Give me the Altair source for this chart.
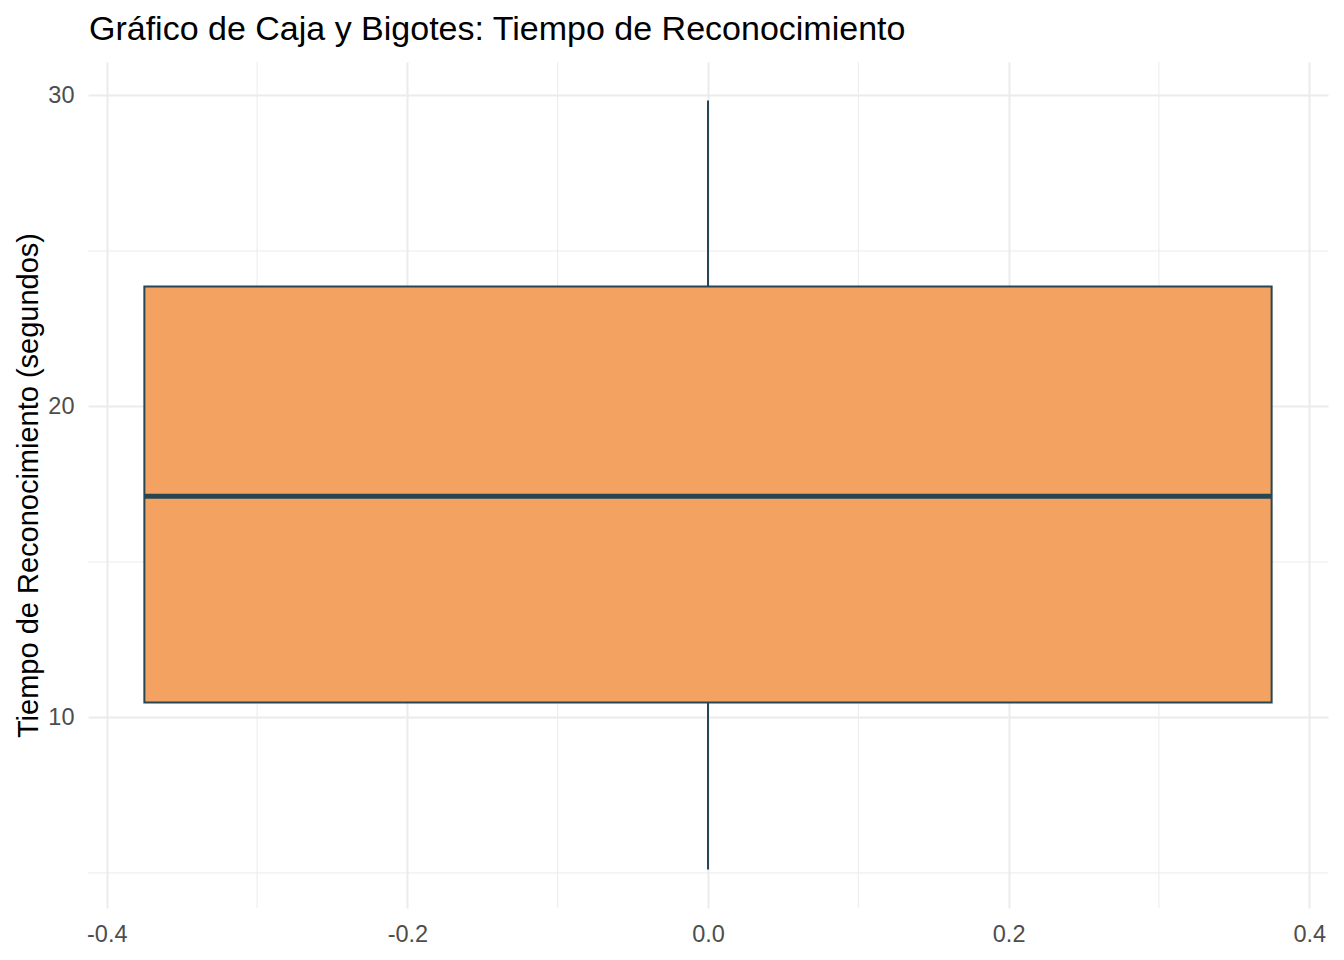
import altair as alt
import pandas as pd

# Summary statistics
lower_whisker = [5.11]
q1 = [10.48]
median = [17.11]
q3 = [23.86]
upper_whisker = [29.84]
box_left = [-0.375]
box_right = [0.375]
box_center = [0.0]

x_major = [-0.4, -0.2, 0.0, 0.2, 0.4]
x_minor = [-0.3, -0.1, 0.1, 0.3]
y_major = [10, 20, 30]
y_minor = [5, 15, 25]

FILL = "#F4A261"
LINE = "#264653"
GRID = "#EBEBEB"
FONT = "Liberation Sans"

box_df = pd.DataFrame({
    "lo": lower_whisker, "q1": q1, "med": median, "q3": q3, "hi": upper_whisker,
    "xl": box_left, "xr": box_right, "xc": box_center,
})

xs = alt.Scale(domain=[-0.4125, 0.4125], nice=False, zero=False)
ys = alt.Scale(domain=[3.873, 31.077], nice=False, zero=False)

xaxis = alt.Axis(values=x_major, format=".1f", labelExpr="replace(datum.label, '\u2212', '-')",
                 title=None, grid=True, gridColor=GRID,
                 gridWidth=2, domain=False, ticks=False, tickSize=0, labelPadding=14,
                 labelFontSize=23.5, labelColor="#4D4D4D", labelFont=FONT)
yaxis = alt.Axis(values=y_major, format="d", title="Tiempo de Reconocimiento (segundos)",
                 grid=True, gridColor=GRID, gridWidth=2, domain=False, ticks=False,
                 tickSize=0, labelPadding=14, labelFontSize=23.5, labelColor="#4D4D4D",
                 labelFont=FONT, titleFont=FONT, titleFontSize=29, titleFontWeight="normal",
                 titleColor="black", titleAngle=270, titleBaseline="alphabetic",
                 titleAlign="center", titleX=-51, titleY=423)

minor_x = alt.Chart(pd.DataFrame({"v": x_minor})).mark_rule(color=GRID, strokeWidth=1).encode(
    x=alt.X("v:Q", scale=xs, axis=xaxis))
minor_y = alt.Chart(pd.DataFrame({"v": y_minor})).mark_rule(color=GRID, strokeWidth=1).encode(
    y=alt.Y("v:Q", scale=ys, axis=yaxis))

base = alt.Chart(box_df)

whisk_up = base.mark_rule(color=LINE, strokeWidth=2).encode(
    x=alt.X("xc:Q", scale=xs), y=alt.Y("q3:Q", scale=ys), y2="hi:Q")
whisk_lo = base.mark_rule(color=LINE, strokeWidth=2).encode(
    x=alt.X("xc:Q", scale=xs), y=alt.Y("lo:Q", scale=ys), y2="q1:Q")
box = base.mark_rect(fill=FILL, stroke=LINE, strokeWidth=2).encode(
    x=alt.X("xl:Q", scale=xs), x2="xr:Q", y=alt.Y("q1:Q", scale=ys), y2="q3:Q")
med = base.mark_rule(color=LINE, strokeWidth=5).encode(
    x=alt.X("xl:Q", scale=xs), x2="xr:Q", y=alt.Y("med:Q", scale=ys))

chart = alt.layer(minor_x, minor_y, whisk_up, whisk_lo, box, med).properties(
    width=1240, height=846,
    autosize=alt.AutoSizeParams(type="none"),
    padding={"left": 88, "top": 62, "right": 16, "bottom": 52},
    background="white",
    title=alt.TitleParams(
        "Gráfico de Caja y Bigotes: Tiempo de Reconocimiento",
        anchor="start", frame="group", font=FONT, fontSize=34, fontWeight="normal",
        color="black", baseline="alphabetic", offset=21, dy=33, dx=1),
).configure_view(stroke=None)

chart.save("out.html", embed_options={"renderer": "svg", "actions": False})
